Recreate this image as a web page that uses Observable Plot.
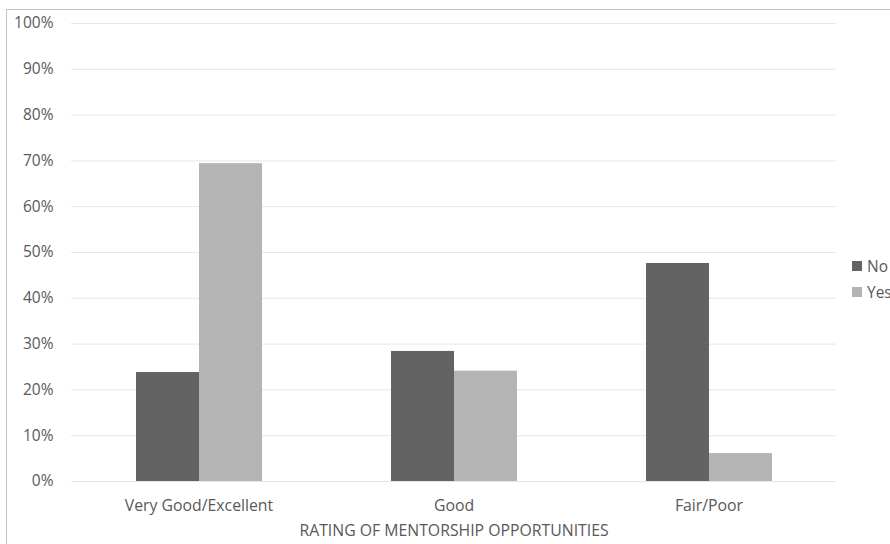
<!DOCTYPE html>
<html>
<head>
<meta charset="utf-8">
<script src="https://cdn.jsdelivr.net/npm/d3@7"></script>
<script src="https://cdn.jsdelivr.net/npm/@observablehq/plot@0.6"></script>
<style>
  html, body { margin: 0; padding: 0; background: #fff; overflow: hidden; width: 890px; height: 544px; }
  #wrap { position: relative; width: 890px; height: 544px; font-family: "Open Sans", sans-serif; color: #595959; }
  #border { position: absolute; left: 6px; top: 9px; width: 960px; height: 620px; border: 1px solid #c4c4c4; box-sizing: border-box; }
  #chart { position: absolute; left: 0; top: 0; }
  .leg { position: absolute; left: 852px; font-size: 15.5px; line-height: 20px; display: flex; align-items: center; white-space: nowrap; }
  .sw { width: 10px; height: 10px; margin-right: 5px; display: inline-block; }
</style>
</head>
<body>
<div id="wrap">
  <div id="border"></div>
  <div id="chart"></div>
  <div id="legend"></div>
</div>
<script>
const categories = ["Very Good/Excellent", "Good", "Fair/Poor"];
const series = ["No", "Yes"];
const noValues = [23.8, 28.4, 47.6];
const yesValues = [69.4, 24.1, 6.1];
const yTicks = [0, 10, 20, 30, 40, 50, 60, 70, 80, 90, 100];
const colors = ["#636363", "#b4b4b4"];
const axisTitle = "RATING OF MENTORSHIP OPPORTUNITIES";

const data = categories.flatMap((c, i) => [
  {category: c, series: series[0], value: noValues[i]},
  {category: c, series: series[1], value: yesValues[i]}
]);

const chart = Plot.plot({
  width: 890,
  height: 544,
  marginLeft: 70,
  marginRight: 53,
  marginTop: 23,
  marginBottom: 63,
  style: {fontFamily: "Open Sans, sans-serif", fontSize: "15.5px", color: "#595959", background: "transparent", overflow: "visible"},
  fx: {domain: categories, padding: 0},
  x: {domain: series, paddingInner: 0, paddingOuter: 1, axis: null},
  y: {domain: [0, 100]},
  color: {domain: series, range: colors},
  marks: [
    Plot.gridY(yTicks, {stroke: "#e6e6e6", strokeOpacity: 1, strokeWidth: 1}),
    Plot.axisY(yTicks, {tickSize: 0, tickPadding: 18, label: null, tickFormat: d => d + "%", fontSize: 15.5}),
    Plot.barY(data, {fx: "category", x: "series", y: "value", fill: "series"}),
    Plot.axisFx({anchor: "bottom", tickSize: 0, tickPadding: 18, label: null, fontSize: 15.8}),
    Plot.axisFx({anchor: "bottom", ticks: [], tickSize: 0, label: axisTitle, labelAnchor: "center", labelOffset: 54, fontSize: 15.8})
  ]
});
document.getElementById("chart").appendChild(chart);

const legend = document.getElementById("legend");
series.forEach((s, i) => {
  const row = document.createElement("div");
  row.className = "leg";
  row.style.top = (256 + i * 26) + "px";
  const sw = document.createElement("span");
  sw.className = "sw";
  sw.style.background = colors[i];
  row.appendChild(sw);
  row.appendChild(document.createTextNode(s));
  legend.appendChild(row);
});
</script>
</body>
</html>
